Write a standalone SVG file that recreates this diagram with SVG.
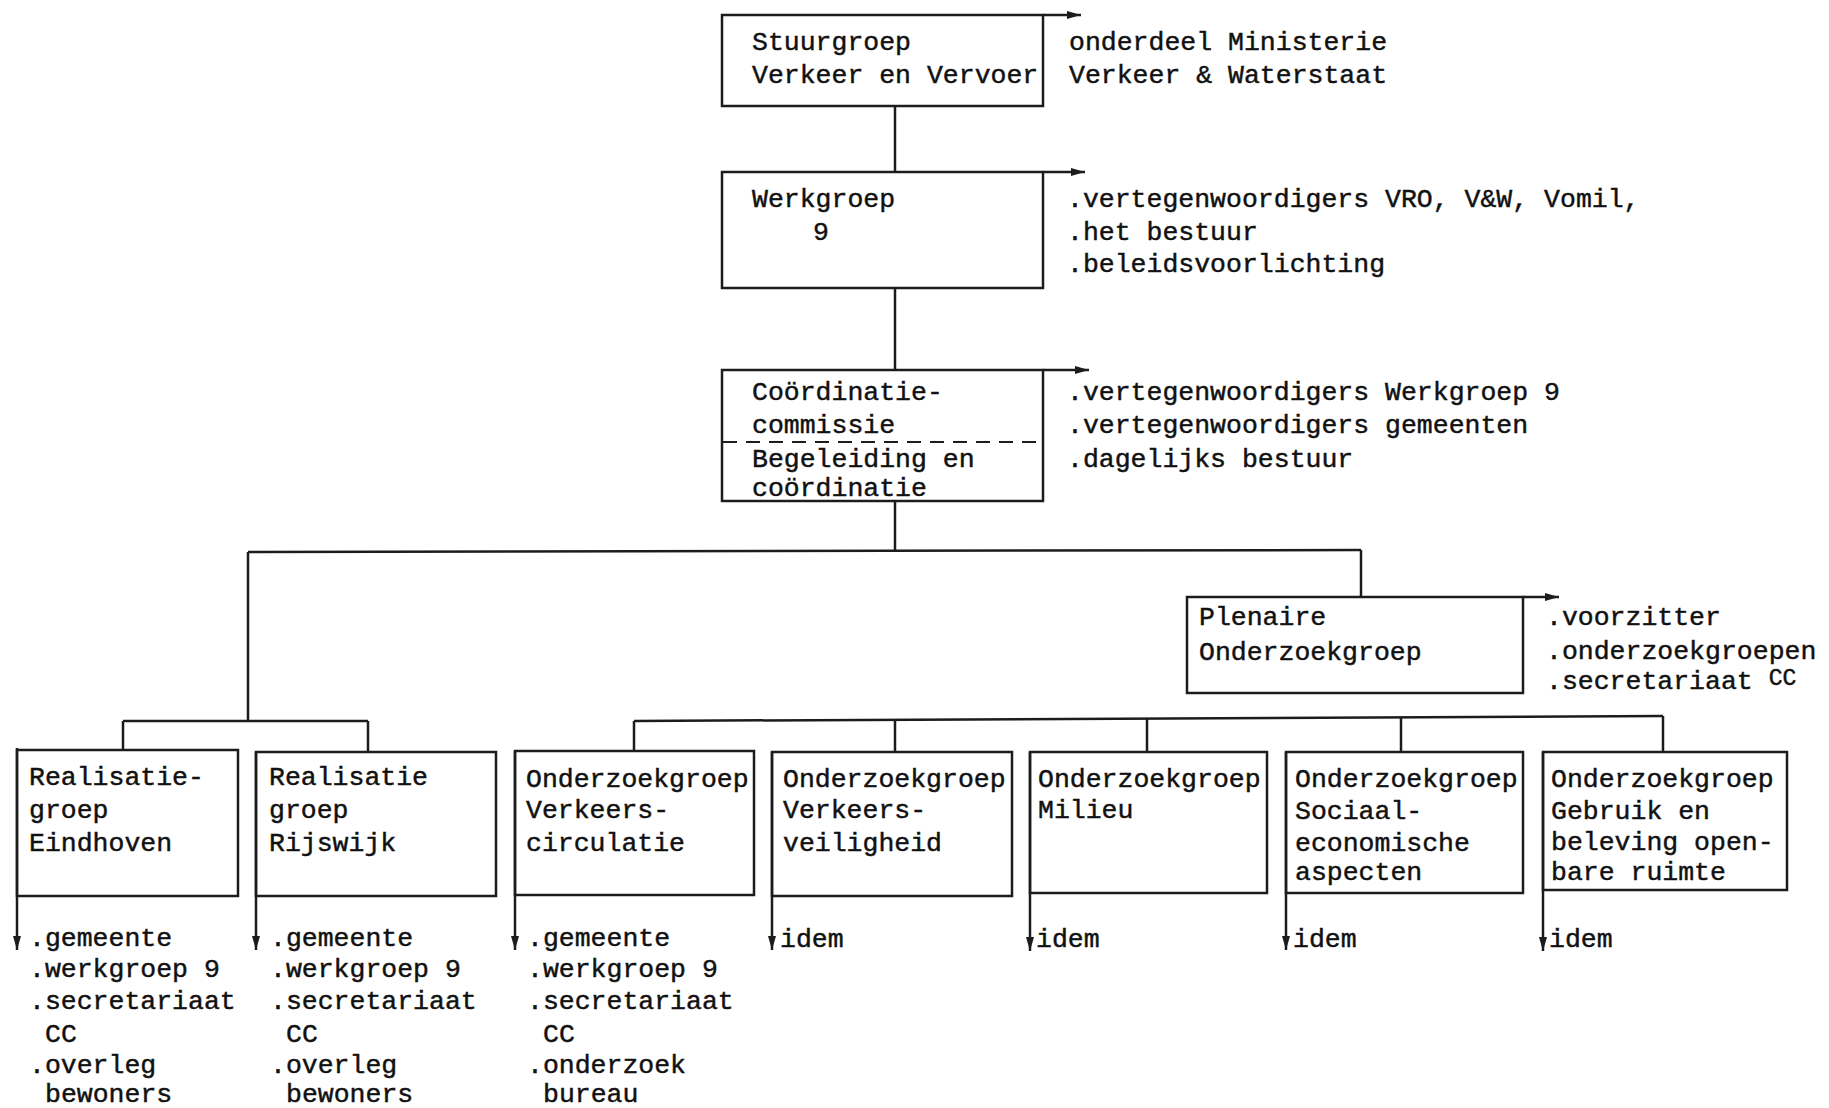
<svg xmlns="http://www.w3.org/2000/svg" width="1829" height="1108" viewBox="0 0 1829 1108">
<style>
.box{fill:none;stroke:#1c1c1c;stroke-width:2.5}
.ln{fill:none;stroke:#1c1c1c;stroke-width:2.5}
.dash{fill:none;stroke:#1c1c1c;stroke-width:2.2;stroke-dasharray:14 9}
.t{font-family:"Liberation Mono","Courier New",monospace;font-size:26.5px;fill:#111;stroke:#111;stroke-width:0.45}
.sm{font-size:23px}
</style>
<defs>
<marker id="ah" markerUnits="userSpaceOnUse" markerWidth="16" markerHeight="10" refX="14" refY="4.5" orient="auto">
<path d="M0,0.5 L14,4.5 L0,8.5 z" fill="#1c1c1c"/>
</marker>
</defs>
<rect width="1829" height="1108" fill="#ffffff"/>

<g id="connectors">
<line class="ln" x1="895" y1="106" x2="895" y2="172"/>
<line class="ln" x1="895" y1="288" x2="895" y2="370"/>
<line class="ln" x1="895" y1="501" x2="895" y2="552"/>
<line class="ln" x1="248" y1="552" x2="1361" y2="550"/>
<line class="ln" x1="248" y1="552" x2="248" y2="721"/>
<line class="ln" x1="1361" y1="550" x2="1361" y2="597"/>
<line class="ln" x1="123" y1="721" x2="368" y2="721"/>
<line class="ln" x1="123" y1="721" x2="123" y2="750"/>
<line class="ln" x1="368" y1="721" x2="368" y2="752"/>
<line class="ln" x1="634" y1="721" x2="1663" y2="716"/>
<line class="ln" x1="634" y1="721" x2="634" y2="751"/>
<line class="ln" x1="895" y1="720" x2="895" y2="752"/>
<line class="ln" x1="1147" y1="718" x2="1147" y2="752"/>
<line class="ln" x1="1401" y1="717" x2="1401" y2="752"/>
<line class="ln" x1="1663" y1="716" x2="1663" y2="752"/>
<line class="ln" x1="1043" y1="15" x2="1081" y2="15" marker-end="url(#ah)"/>
<line class="ln" x1="1043" y1="172" x2="1085" y2="172" marker-end="url(#ah)"/>
<line class="ln" x1="1043" y1="370" x2="1089" y2="370" marker-end="url(#ah)"/>
<line class="ln" x1="1523" y1="597" x2="1559" y2="597" marker-end="url(#ah)"/>
<line class="ln" x1="17" y1="748" x2="17" y2="950" marker-end="url(#ah)"/>
<line class="ln" x1="256" y1="752" x2="256" y2="950" marker-end="url(#ah)"/>
<line class="ln" x1="515" y1="751" x2="515" y2="950" marker-end="url(#ah)"/>
<line class="ln" x1="772" y1="752" x2="772" y2="950" marker-end="url(#ah)"/>
<line class="ln" x1="1030" y1="752" x2="1030" y2="951" marker-end="url(#ah)"/>
<line class="ln" x1="1286" y1="752" x2="1286" y2="950" marker-end="url(#ah)"/>
<line class="ln" x1="1543" y1="752" x2="1543" y2="951" marker-end="url(#ah)"/>
</g>

<g id="stuurgroep">
<rect class="box" x="722" y="15" width="321" height="91"/>
<text class="t" x="752" y="50">Stuurgroep</text>
<text class="t" x="752" y="83">Verkeer en Vervoer</text>
<text class="t" x="1069" y="50">onderdeel Ministerie</text>
<text class="t" x="1069" y="83">Verkeer &amp; Waterstaat</text>
</g>

<g id="werkgroep">
<rect class="box" x="722" y="172" width="321" height="116"/>
<text class="t" x="752" y="207">Werkgroep</text>
<text class="t" x="813" y="240">9</text>
<text class="t" x="1067" y="207">.vertegenwoordigers VRO, V&amp;W, Vomil,</text>
<text class="t" x="1067" y="240">.het bestuur</text>
<text class="t" x="1067" y="272">.beleidsvoorlichting</text>
</g>

<g id="coordinatie">
<rect class="box" x="722" y="370" width="321" height="131"/>
<line class="dash" x1="723" y1="442" x2="1042" y2="442"/>
<text class="t" x="752" y="400">Coördinatie-</text>
<text class="t" x="752" y="433">commissie</text>
<text class="t" x="752" y="467">Begeleiding en</text>
<text class="t" x="752" y="496">coördinatie</text>
<text class="t" x="1067" y="400">.vertegenwoordigers Werkgroep 9</text>
<text class="t" x="1067" y="433">.vertegenwoordigers gemeenten</text>
<text class="t" x="1067" y="467">.dagelijks bestuur</text>
</g>

<g id="plenaire">
<rect class="box" x="1187" y="597" width="336" height="96"/>
<text class="t" x="1199" y="625">Plenaire</text>
<text class="t" x="1199" y="660">Onderzoekgroep</text>
<text class="t" x="1546" y="625">.voorzitter</text>
<text class="t" x="1546" y="659">.onderzoekgroepen</text>
<text class="t" x="1546" y="689">.secretariaat <tspan class="sm" dy="-4">CC</tspan></text>
</g>

<g id="realisatie-eindhoven">
<rect class="box" x="17" y="750" width="221" height="146"/>
<text class="t" x="29" y="785">Realisatie-</text>
<text class="t" x="29" y="818">groep</text>
<text class="t" x="29" y="851">Eindhoven</text>
<text class="t" x="29" y="946">.gemeente</text>
<text class="t" x="29" y="977">.werkgroep 9</text>
<text class="t" x="29" y="1009">.secretariaat</text>
<text class="t" x="45" y="1042">CC</text>
<text class="t" x="29" y="1073">.overleg</text>
<text class="t" x="45" y="1102">bewoners</text>
</g>

<g id="realisatie-rijswijk">
<rect class="box" x="256" y="752" width="240" height="144"/>
<text class="t" x="269" y="785">Realisatie</text>
<text class="t" x="269" y="818">groep</text>
<text class="t" x="269" y="851">Rijswijk</text>
<text class="t" x="270" y="946">.gemeente</text>
<text class="t" x="270" y="977">.werkgroep 9</text>
<text class="t" x="270" y="1009">.secretariaat</text>
<text class="t" x="286" y="1042">CC</text>
<text class="t" x="270" y="1073">.overleg</text>
<text class="t" x="286" y="1102">bewoners</text>
</g>

<g id="og-verkeerscirculatie">
<rect class="box" x="515" y="751" width="239" height="144"/>
<text class="t" x="526" y="787">Onderzoekgroep</text>
<text class="t" x="526" y="818">Verkeers-</text>
<text class="t" x="526" y="851">circulatie</text>
<text class="t" x="527" y="946">.gemeente</text>
<text class="t" x="527" y="977">.werkgroep 9</text>
<text class="t" x="527" y="1009">.secretariaat</text>
<text class="t" x="543" y="1042">CC</text>
<text class="t" x="527" y="1073">.onderzoek</text>
<text class="t" x="543" y="1102">bureau</text>
</g>

<g id="og-verkeersveiligheid">
<rect class="box" x="772" y="752" width="240" height="144"/>
<text class="t" x="783" y="787">Onderzoekgroep</text>
<text class="t" x="783" y="818">Verkeers-</text>
<text class="t" x="783" y="851">veiligheid</text>
<text class="t" x="780" y="947">idem</text>
</g>

<g id="og-milieu">
<rect class="box" x="1030" y="752" width="237" height="141"/>
<text class="t" x="1038" y="787">Onderzoekgroep</text>
<text class="t" x="1038" y="818">Milieu</text>
<text class="t" x="1036" y="947">idem</text>
</g>

<g id="og-sociaal">
<rect class="box" x="1286" y="752" width="237" height="141"/>
<text class="t" x="1295" y="787">Onderzoekgroep</text>
<text class="t" x="1295" y="819">Sociaal-</text>
<text class="t" x="1295" y="851">economische</text>
<text class="t" x="1295" y="880">aspecten</text>
<text class="t" x="1293" y="947">idem</text>
</g>

<g id="og-openbare-ruimte">
<rect class="box" x="1543" y="752" width="244" height="138"/>
<text class="t" x="1551" y="787">Onderzoekgroep</text>
<text class="t" x="1551" y="819">Gebruik en</text>
<text class="t" x="1551" y="850">beleving open-</text>
<text class="t" x="1551" y="880">bare ruimte</text>
<text class="t" x="1549" y="947">idem</text>
</g>
</svg>
